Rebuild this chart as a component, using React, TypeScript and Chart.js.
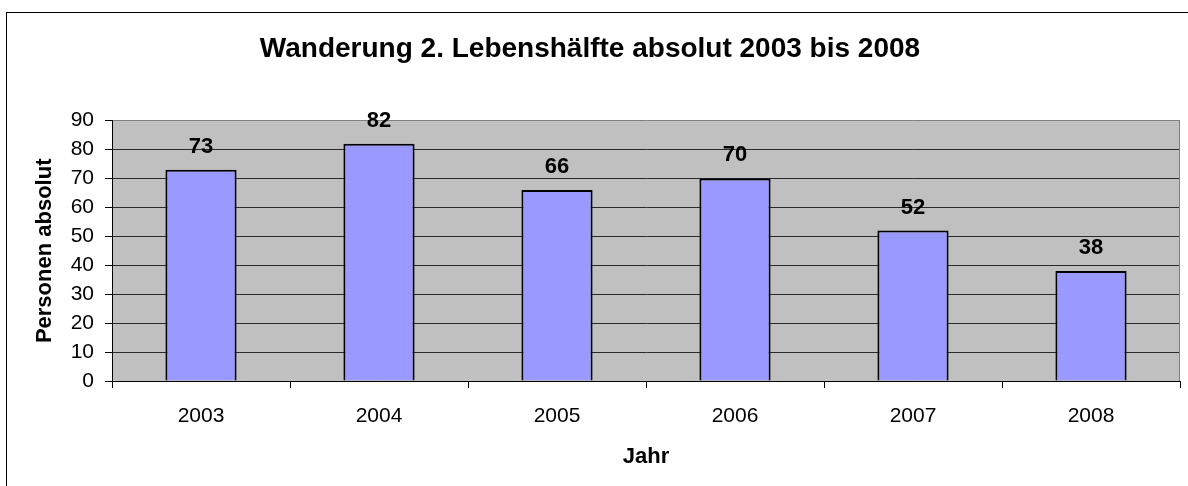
import React, { useEffect, useRef } from "react";
import { Chart, registerables } from "chart.js";

Chart.register(...registerables);

const categories = ["2003", "2004", "2005", "2006", "2007", "2008"];
const values = [73, 82, 66, 70, 52, 38];
const chartTitle = "Wanderung 2. Lebenshälfte absolut 2003 bis 2008";
const yAxisTitle = "Personen absolut";
const xAxisTitle = "Jahr";

const FONT = "'Liberation Sans', Arial, Helvetica, sans-serif";

const bgPlugin = {
  id: "bgPlugin",
  beforeDraw(chart: any) {
    const { ctx, chartArea, width, height } = chart;
    ctx.save();
    ctx.fillStyle = "#ffffff";
    ctx.fillRect(0, 0, width, height);
    ctx.fillStyle = "#C0C0C0";
    ctx.fillRect(chartArea.left, chartArea.top, chartArea.right - chartArea.left, chartArea.bottom - chartArea.top);
    ctx.restore();
  },
  afterDraw(chart: any) {
    const { ctx, chartArea } = chart;
    ctx.save();
    ctx.strokeStyle = "#808080";
    ctx.lineWidth = 1;
    ctx.beginPath();
    ctx.moveTo(Math.round(chartArea.right) - 0.5, chartArea.top);
    ctx.lineTo(Math.round(chartArea.right) - 0.5, chartArea.bottom);
    ctx.stroke();
    ctx.strokeStyle = "#000000";
    ctx.strokeRect(6.5, 12.5, 1400, 700);
    ctx.restore();
  },
};

const labelPlugin = {
  id: "labelPlugin",
  afterDatasetsDraw(chart: any) {
    const { ctx } = chart;
    const meta = chart.getDatasetMeta(0);
    ctx.save();
    ctx.font = `bold 22px ${FONT}`;
    ctx.fillStyle = "#000000";
    ctx.textAlign = "center";
    ctx.textBaseline = "alphabetic";
    meta.data.forEach((bar: any, i: number) => {
      ctx.fillText(String(values[i]), bar.x, bar.y - 17);
    });
    ctx.restore();
  },
};

export default function App() {
  const ref = useRef<HTMLCanvasElement>(null);

  useEffect(() => {
    if (!ref.current) return;
    const chart = new Chart(ref.current, {
      type: "bar",
      data: {
        labels: categories,
        datasets: [
          {
            data: values,
            backgroundColor: "#9999FF",
            borderColor: "#000000",
            borderWidth: 2,
            categoryPercentage: 1,
            barPercentage: 0.4,
          },
        ],
      },
      options: {
        animation: false,
        responsive: false,
        devicePixelRatio: 1,
        layout: { padding: { left: 0, right: 8, top: 0, bottom: 0 } },
        plugins: {
          legend: { display: false },
          tooltip: { enabled: false },
          title: {
            display: true,
            text: chartTitle,
            color: "#000000",
            font: { family: FONT, size: 28, weight: "bold" },
            padding: { top: 32, bottom: 55 },
          },
        },
        scales: {
          x: {
            grid: {
              offset: true,
              drawOnChartArea: false,
              drawTicks: true,
              tickLength: 7,
              tickColor: "#000000",
            },
            border: { display: true, color: "#000000", width: 1 },
            ticks: {
              color: "#000000",
              font: { family: FONT, size: 21 },
              padding: 16,
              maxRotation: 0,
            },
            title: {
              display: true,
              text: xAxisTitle,
              color: "#000000",
              font: { family: FONT, size: 22, weight: "bold" },
              padding: { top: 0, bottom: 16 },
            },
            afterFit(scale: any) {
              scale.height = 105;
            },
          },
          y: {
            min: 0,
            max: 90,
            grid: {
              color: (c: any) => (c.tick && c.tick.value === 90 ? "#808080" : "#2a2a2a"),
              lineWidth: 1,
              drawTicks: true,
              tickLength: 7,
              tickColor: "#000000",
            },
            border: { display: true, color: "#000000", width: 1 },
            ticks: {
              stepSize: 10,
              color: "#000000",
              font: { family: FONT, size: 21 },
              padding: 11,
            },
            title: {
              display: true,
              text: yAxisTitle,
              color: "#000000",
              font: { family: FONT, size: 22, weight: "bold" },
              padding: { top: 32, bottom: 0 },
            },
            afterFit(scale: any) {
              scale.width = 112;
            },
          },
        },
      },
      plugins: [bgPlugin, labelPlugin],
    });
    return () => chart.destroy();
  }, []);

  return (
    <div style={{ position: "fixed", left: 0, top: 0, width: 1188, height: 486 }}>
      <canvas ref={ref} width={1188} height={486} style={{ display: "block" }} />
    </div>
  );
}
